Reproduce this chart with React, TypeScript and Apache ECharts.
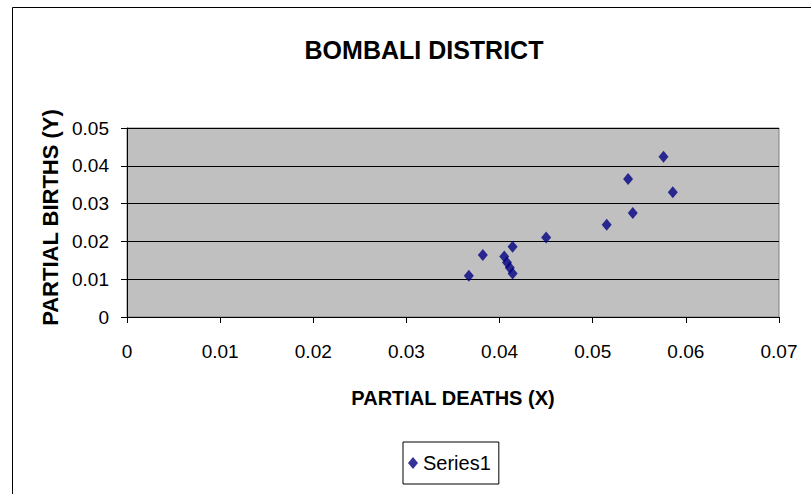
import React, { useEffect, useRef } from "react";
import * as echarts from "echarts";

const partialDeaths = [0.0367, 0.0382, 0.0405, 0.0408, 0.0411, 0.0414, 0.0414, 0.045, 0.0515, 0.0538, 0.0543, 0.0576, 0.0586];
const partialBirths = [0.0109, 0.0164, 0.016, 0.0144, 0.013, 0.0115, 0.0186, 0.021, 0.0244, 0.0365, 0.0275, 0.0424, 0.033];
const seriesName = "Series1";
const titleText = "BOMBALI DISTRICT";
const xName = "PARTIAL DEATHS (X)";
const yName = "PARTIAL BIRTHS (Y)";

const FONT = "'Liberation Sans', Arial, sans-serif";

export default function App() {
  const ref = useRef<HTMLDivElement>(null);
  useEffect(() => {
    if (!ref.current) return;
    const chart = echarts.init(ref.current, undefined, { renderer: "svg" });
    const data = partialDeaths.map((x, i) => [x, partialBirths[i]]);
    chart.setOption({
      animation: false,
      backgroundColor: "#ffffff",
      title: {
        text: titleText,
        left: 419,
        top: 32,
        textAlign: "center",
        textStyle: { fontFamily: FONT, fontWeight: "bold", fontSize: 25, color: "#000" },
      },
      graphic: [
        {
          type: "rect",
          left: 10,
          top: 5,
          shape: { width: 900, height: 600 },
          style: { fill: "none", stroke: "#000", lineWidth: 1 },
          silent: true,
        },
      ],
      legend: {
        left: 403,
        top: 442,
        itemWidth: 10,
        itemHeight: 12,
        itemGap: 5,
        padding: [11, 8, 11, 5],
        borderColor: "#000",
        borderWidth: 1,
        backgroundColor: "#fff",
        textStyle: { fontFamily: FONT, fontSize: 20, color: "#000" },
        data: [{ name: seriesName, icon: "diamond" }],
      },
      grid: {
        left: 127,
        top: 128,
        width: 652,
        height: 189,
        show: true,
        backgroundColor: "#c0c0c0",
        borderColor: "#808080",
        borderWidth: 1,
      },
      xAxis: {
        type: "value",
        min: 0,
        max: 0.07,
        interval: 0.01,
        name: xName,
        nameLocation: "middle",
        nameGap: 71,
        nameTextStyle: { fontFamily: FONT, fontWeight: "bold", fontSize: 20, color: "#000" },
        axisLine: { show: true, lineStyle: { color: "#000", width: 1 } },
        axisTick: { show: true, inside: false, length: 6, lineStyle: { color: "#000" } },
        axisLabel: { fontFamily: FONT, fontSize: 19, color: "#000", margin: 25 },
        splitLine: { show: false },
      },
      yAxis: {
        type: "value",
        min: 0,
        max: 0.05,
        interval: 0.01,
        name: yName,
        nameLocation: "middle",
        nameRotate: 90,
        nameGap: 56,
        nameTextStyle: { fontFamily: FONT, fontWeight: "bold", fontSize: 22, color: "#000", padding: [0, 0, 0, 10] },
        axisLine: { show: true, lineStyle: { color: "#000", width: 1 } },
        axisTick: { show: true, inside: false, length: 6, lineStyle: { color: "#000" } },
        axisLabel: { fontFamily: FONT, fontSize: 19, color: "#000", margin: 18 },
        splitLine: { show: true, lineStyle: { color: "#000", width: 1 } },
      },
      series: [
        {
          name: seriesName,
          type: "scatter",
          symbol: "diamond",
          symbolSize: [10, 12],
          itemStyle: { color: "#000080" },
          data,
        },
      ],
    });
    return () => chart.dispose();
  }, []);
  return (
    <div
      ref={ref}
      style={{ position: "absolute", left: 0, top: 0, width: 811, height: 494 }}
    />
  );
}
